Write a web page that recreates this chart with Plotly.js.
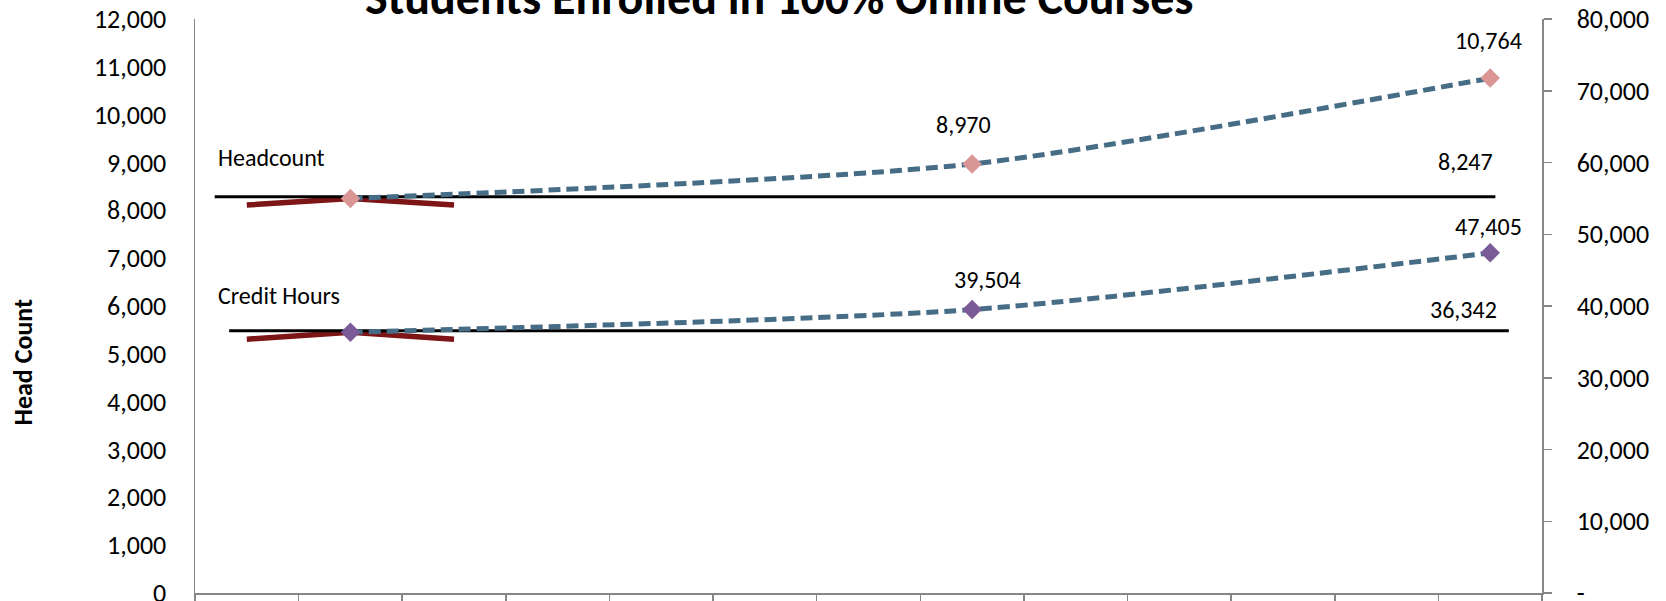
<!DOCTYPE html>
<html>
<head>
<meta charset="utf-8">
<script src="https://cdn.plot.ly/plotly-3.0.1.min.js"></script>
<style>html,body{margin:0;padding:0;background:#fff;}#chart{width:1666px;height:601px;}</style>
</head>
<body>
<div id="chart"></div>
<script>
// ---- data ----
const pointX = [1, 7, 12];
const headcount = [8247, 8970, 10764];
const creditHours = [36342, 39504, 47405];
const bracketX = [0, 1, 2];
const headBracket = [8110, 8247, 8110];
const creditBracket = [35380, 36342, 35380];
const headRefX = [-0.31, 12.05];
const headRef = [8285, 8285];
const creditRefX = [-0.17, 12.18];
const creditRef = [36560, 36560];
const headRefLabel = "8,247";
const creditRefLabel = "36,342";
const rightTickVals = [0, 10000, 20000, 30000, 40000, 50000, 60000, 70000, 80000];
const rightTickText = ["-", "10,000", "20,000", "30,000", "40,000", "50,000", "60,000", "70,000", "80,000"];
const xBoundaries = [-0.5, 0.5, 1.5, 2.5, 3.5, 4.5, 5.5, 6.5, 7.5, 8.5, 9.5, 10.5, 11.5, 12.5];

const FONT = "Carlito, Calibri, Lato, 'Liberation Sans', sans-serif";
const fmt = v => v.toLocaleString('en-US');

const dashColor = '#466d85';
const redColor = '#7d1416';

const traces = [
  {x: bracketX, y: headBracket, mode: 'lines', line: {color: redColor, width: 5.5}, yaxis: 'y', hoverinfo: 'skip'},
  {x: bracketX, y: creditBracket, mode: 'lines', line: {color: redColor, width: 5.5}, yaxis: 'y2', hoverinfo: 'skip'},
  {x: headRefX, y: headRef, mode: 'lines', line: {color: '#000', width: 3}, yaxis: 'y'},
  {x: creditRefX, y: creditRef, mode: 'lines', line: {color: '#000', width: 3}, yaxis: 'y2'},
  {x: pointX, y: headcount, mode: 'lines', line: {color: dashColor, width: 5, dash: '12px,6px', shape: 'spline', smoothing: 0.7}, yaxis: 'y'},
  {x: pointX, y: creditHours, mode: 'lines', line: {color: dashColor, width: 5, dash: '12px,6px', shape: 'spline', smoothing: 0.7}, yaxis: 'y2'},
  {x: pointX, y: headcount, mode: 'markers', marker: {symbol: 'diamond', size: 15, color: '#d99694'}, yaxis: 'y'},
  {x: pointX, y: creditHours, mode: 'markers', marker: {symbol: 'diamond', size: 15, color: '#7a5b98'}, yaxis: 'y2'}
];

const labelFont = {family: FONT, size: 24, color: '#000'};
const headShift = [[-9, 39], [-9, 39], [-2, 38]];
const creditShift = [[0, 29], [15, 30], [-2, 26]];

const annotations = [];
// data labels (first point is labelled by its reference line)
for (let i = 1; i < pointX.length; i++) {
  annotations.push({x: pointX[i], y: headcount[i], xref: 'x', yref: 'y', text: fmt(headcount[i]),
    showarrow: false, font: labelFont, xshift: headShift[i][0], yshift: headShift[i][1]});
  annotations.push({x: pointX[i], y: creditHours[i], xref: 'x', yref: 'y2', text: fmt(creditHours[i]),
    showarrow: false, font: labelFont, xshift: creditShift[i][0], yshift: creditShift[i][1]});
}
annotations.push({x: headRefX[1], y: headRef[1], xref: 'x', yref: 'y', text: headRefLabel, showarrow: false,
  font: labelFont, xanchor: 'right', xshift: 0, yshift: 35});
annotations.push({x: creditRefX[1], y: creditRef[1], xref: 'x', yref: 'y2', text: creditRefLabel, showarrow: false,
  font: labelFont, xanchor: 'right', xshift: -10, yshift: 21});
annotations.push({x: headRefX[0], y: headRef[0], xref: 'x', yref: 'y', text: 'Headcount', showarrow: false,
  font: labelFont, xanchor: 'left', xshift: 1, yshift: 39});
annotations.push({x: headRefX[0], y: creditRef[0], xref: 'x', yref: 'y2', text: 'Credit Hours', showarrow: false,
  font: labelFont, xanchor: 'left', xshift: 1, yshift: 35});
// y axis title
annotations.push({xref: 'paper', yref: 'paper', x: -0.1275, y: 0.402, xanchor: 'center', yanchor: 'middle',
  text: '<b>Head Count</b>', textangle: -90, showarrow: false, font: {family: FONT, size: 26, color: '#000'}});
// chart title (cropped at the top of the picture, as in the original)
annotations.push({xref: 'paper', yref: 'paper', x: 0.4336, y: 1.0932, xanchor: 'center', yanchor: 'top',
  text: '<b>Students Enrolled in 100% Online Courses</b>',
  showarrow: false, font: {family: FONT, size: 48, color: '#000'}});

const axisGray = '#868686';
const layout = {
  width: 1666, height: 601,
  margin: {l: 195, r: 124, t: 19, b: 8, pad: 0},
  paper_bgcolor: '#fff', plot_bgcolor: '#fff',
  showlegend: false,
  font: {family: FONT, size: 26, color: '#000'},
  xaxis: {range: [-0.5, 12.5], tickmode: 'array', tickvals: xBoundaries, ticks: 'outside', ticklen: 10,
    tickcolor: axisGray, tickwidth: 1.5, showticklabels: false, showline: true, linecolor: axisGray, linewidth: 1.5,
    showgrid: false, zeroline: false, fixedrange: true},
  yaxis: {range: [0, 12000], dtick: 1000, tickformat: ',d', ticks: '', showline: true, linecolor: axisGray,
    linewidth: 1.5, showgrid: false, zeroline: false, ticklabelstandoff: 22, ticklabeloverflow: 'allow',
    tickfont: {family: FONT, size: 26, color: '#000'}},
  yaxis2: {range: [0, 80000], overlaying: 'y', side: 'right', tickmode: 'array', tickvals: rightTickVals,
    ticktext: rightTickText, ticks: 'outside', ticklen: 8, tickcolor: axisGray, tickwidth: 1.5, showline: true,
    linecolor: axisGray, linewidth: 1.5, showgrid: false, zeroline: false, ticklabelstandoff: 20,
    ticklabeloverflow: 'allow', tickfont: {family: FONT, size: 26, color: '#000'}},
  annotations: annotations
};

Plotly.newPlot('chart', traces, layout, {staticPlot: true, displayModeBar: false});
</script>
</body>
</html>
